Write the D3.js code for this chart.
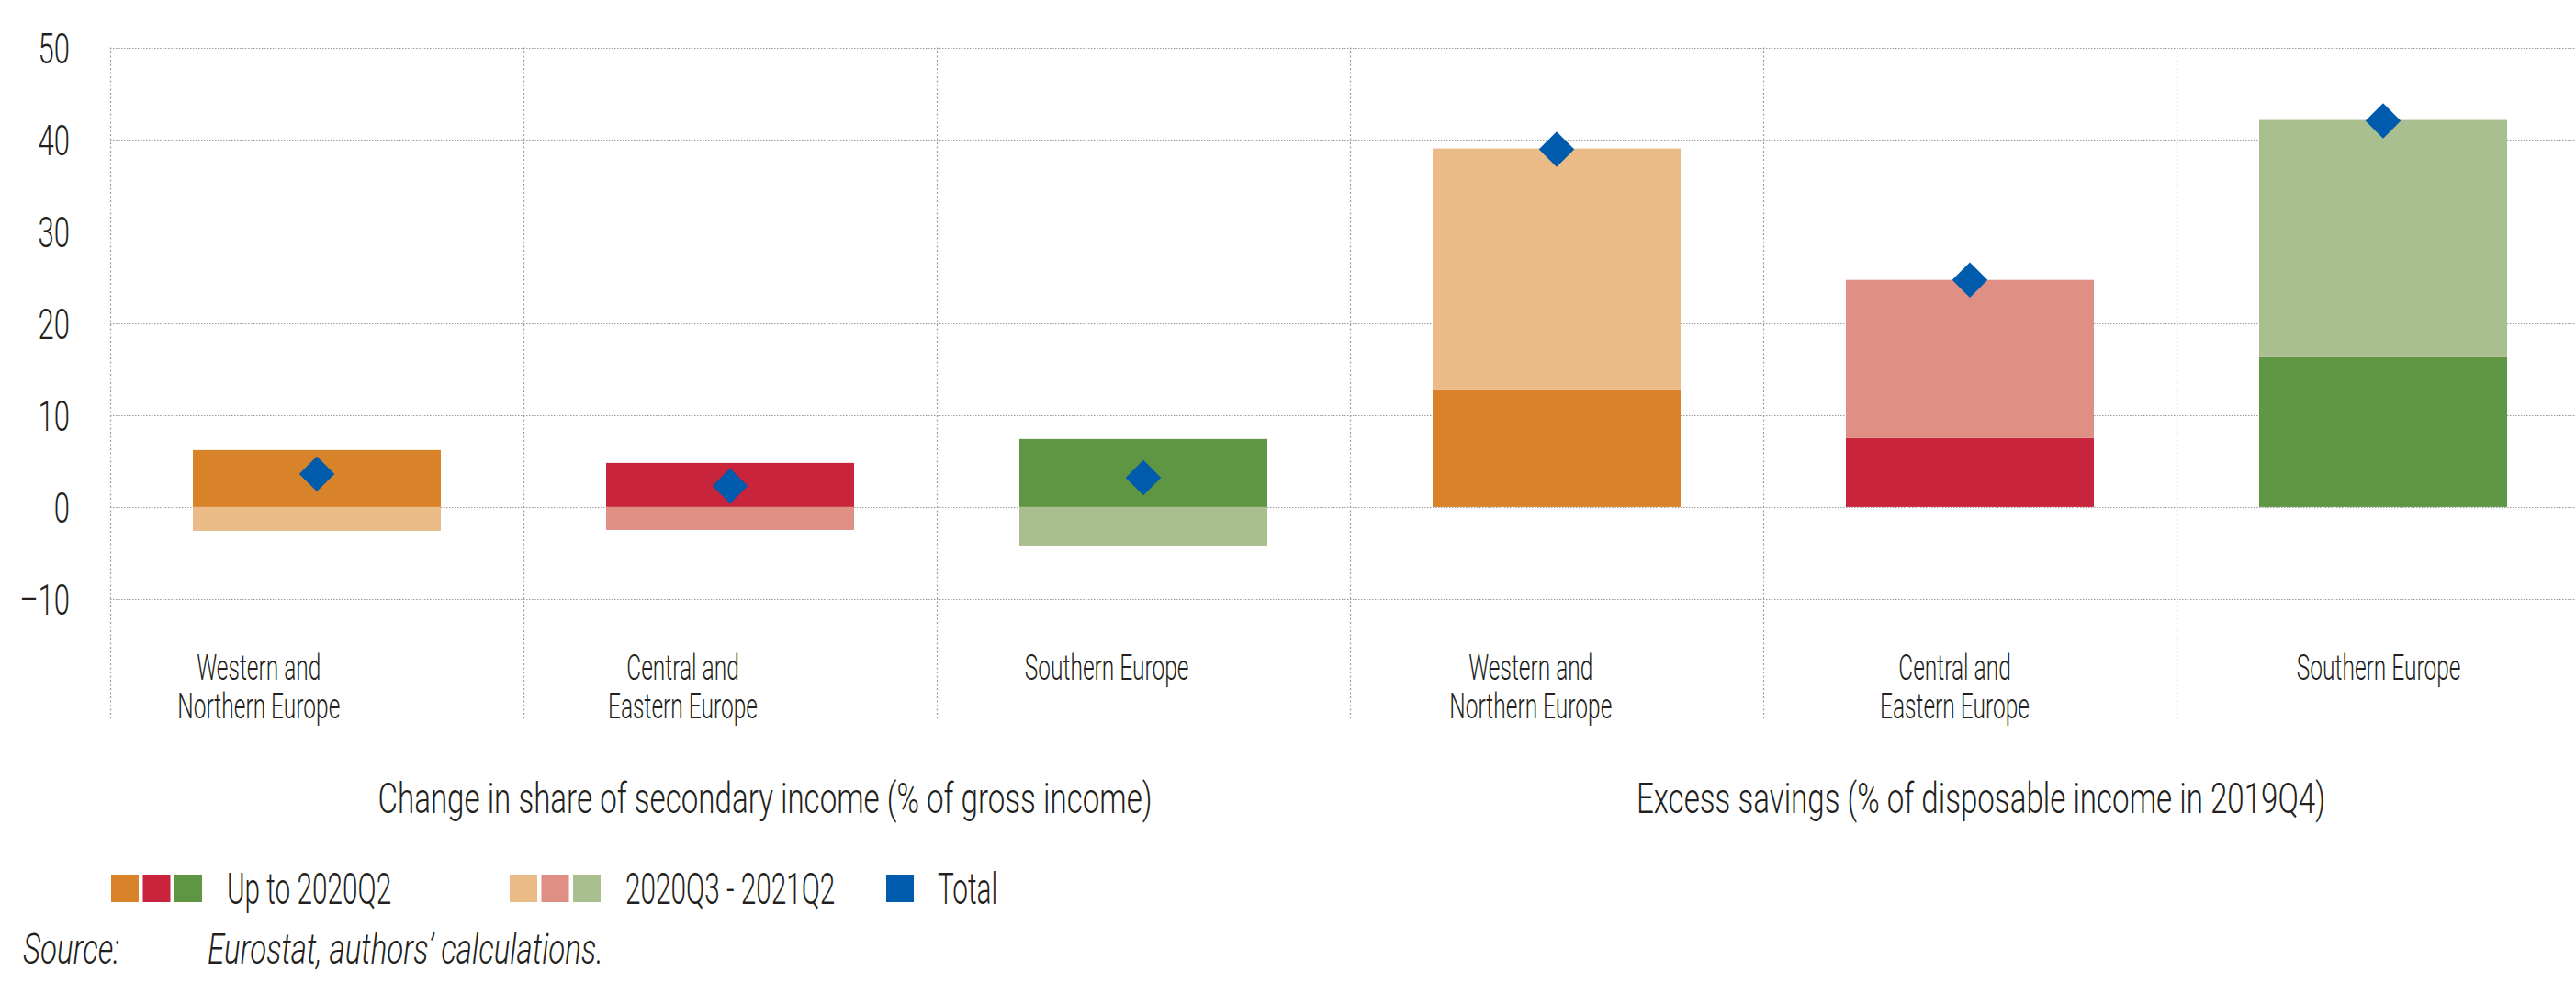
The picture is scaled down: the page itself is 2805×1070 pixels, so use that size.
<!DOCTYPE html>
<html>
<head>
<meta charset="utf-8">
<script src="https://cdn.jsdelivr.net/npm/d3@7"></script>
<style>
  html, body { margin: 0; padding: 0; background: #fff; }
  svg { display: block; }
  text { font-family: Roboto, "Open Sans", sans-serif; font-weight: 300; fill: #231f20; }
</style>
</head>
<body>
<svg id="chart"></svg>
<script>
// categories: two panels x three regions
const catKeys = ["inc-wn", "inc-ce", "inc-s", "sav-wn", "sav-ce", "sav-s"];
const catLabels = [
  ["Western and", "Northern Europe"], ["Central and", "Eastern Europe"], ["Southern Europe"],
  ["Western and", "Northern Europe"], ["Central and", "Eastern Europe"], ["Southern Europe"]
];
const panelTitles = [
  "Change in share of secondary income (% of gross income)",
  "Excess savings (% of disposable income in 2019Q4)"
];

// series values
const upTo2020Q2 = [6.2, 4.8, 7.4, 12.8, 7.5, 16.3];
const q3To2021Q2 = [-2.6, -2.5, -4.2, 26.2, 17.2, 25.8];
const totals = [3.6, 2.3, 3.2, 38.9, 24.7, 42.0];

const yTicks = [-10, 0, 10, 20, 30, 40, 50];
const legendLabels = ["Up to 2020Q2", "2020Q3 - 2021Q2", "Total"];

// colours per region (dark = up to 2020Q2, light = later)
const darkCols = ["#d8832a", "#c8243b", "#5e9644"];
const lightCols = ["#eaba87", "#df8f84", "#aabf8f"];
const blue = "#005bac";

const width = 2805, height = 1070;

const svg = d3.select("#chart").attr("width", width).attr("height", height);

const rows = catKeys.map((k, i) => ({ key: k, region: i % 3, up: upTo2020Q2[i], later: q3To2021Q2[i], total: totals[i] }));

const x = d3.scaleBand().domain(catKeys).range([120, 2820]).paddingInner(0.4).paddingOuter(0.2);
const xLab = d3.scaleBand().domain(catKeys).range([51, 2821]);
const y = d3.scaleLinear().domain([-10, 50]).range([652, 51.5]);

// grid
const grid = svg.append("g");
grid.selectAll("line.h").data(yTicks).join("line")
  .attr("class", "h")
  .attr("x1", 120).attr("x2", 2820)
  .attr("y1", d => Math.round(y(d)) + 0.5).attr("y2", d => Math.round(y(d)) + 0.5)
  .attr("stroke", "#9d9d9d").attr("stroke-width", 1.2).attr("stroke-dasharray", "1.5,1.5");

grid.selectAll("line.v").data(d3.range(catKeys.length + 1)).join("line")
  .attr("class", "v")
  .attr("x1", i => Math.round(x.range()[0] + i * x.step()) + 0.5)
  .attr("x2", i => Math.round(x.range()[0] + i * x.step()) + 0.5)
  .attr("y1", y(50)).attr("y2", 782)
  .attr("stroke", "#9d9d9d").attr("stroke-width", 1.2).attr("stroke-dasharray", "2,2.5");

// y axis labels
svg.append("g")
  .attr("transform", "translate(76,0)")
  .call(d3.axisLeft(y).tickValues(yTicks).tickSize(0).tickPadding(0).tickFormat(d => d < 0 ? "\u2013" + Math.abs(d) : d))
  .call(g => g.select(".domain").remove())
  .selectAll("text")
  .attr("font-family", null)
  .attr("font-size", 47)
  .attr("dy", "0.36em")
  .attr("transform", "scale(0.66,1)");

// stacked bars
const stack = d3.stack().keys(["up", "later"]).offset(d3.stackOffsetDiverging);
const series = stack(rows);

svg.append("g").selectAll("g").data(series).join("g")
  .selectAll("rect").data(s => s.map(d => ({ s: s.key, d }))).join("rect")
  .attr("x", p => x(p.d.data.key))
  .attr("width", x.bandwidth())
  .attr("y", p => y(Math.max(p.d[0], p.d[1])))
  .attr("height", p => Math.abs(y(p.d[0]) - y(p.d[1])))
  .attr("fill", p => p.s === "up" ? darkCols[p.d.data.region] : lightCols[p.d.data.region]);

// total markers
svg.append("g").selectAll("path").data(rows).join("path")
  .attr("d", d3.symbol(d3.symbolSquare, 740))
  .attr("transform", d => `translate(${x(d.key) + x.bandwidth() / 2},${y(d.total)}) rotate(45)`)
  .attr("fill", blue);

// category labels
const catG = svg.append("g").selectAll("g").data(rows).join("g");
catG.each(function (d, i) {
  catLabels[i].forEach((ln, j) => {
    d3.select(this).append("text")
      .attr("transform", `translate(${xLab(d.key) + xLab.bandwidth() / 2},${740 + j * 42}) scale(0.645,1)`)
      .attr("text-anchor", "middle")
      .attr("font-size", 38)
      .text(ln);
  });
});

// panel titles
const titleX = [833, 2157];
svg.append("g").selectAll("text").data(panelTitles).join("text")
  .attr("transform", (d, i) => `translate(${titleX[i]},885) scale(0.72,1)`)
  .attr("text-anchor", "middle")
  .attr("font-size", 46)
  .text(d => d);

// legend
const leg = svg.append("g");
const legendItems = [
  { label: legendLabels[0], cols: darkCols, x: 121, tx: 247 },
  { label: legendLabels[1], cols: lightCols, x: 555, tx: 681 },
  { label: legendLabels[2], cols: [blue], x: 965, tx: 1021 }
];
legendItems.forEach(it => {
  leg.selectAll(null).data(it.cols).join("rect")
    .attr("x", (c, i) => it.x + i * 34.5)
    .attr("y", 952).attr("width", 30).attr("height", 30)
    .attr("fill", c => c);
  leg.append("text")
    .attr("transform", `translate(${it.tx},984) scale(0.62,1)`)
    .attr("font-size", 48)
    .text(it.label);
});

// source
svg.append("text")
  .attr("transform", "translate(25,1049) scale(0.72,1)")
  .attr("font-size", 46).attr("font-style", "italic")
  .text("Source:");
svg.append("text")
  .attr("transform", "translate(226,1049) scale(0.72,1)")
  .attr("font-size", 46).attr("font-style", "italic")
  .text("Eurostat, authors\u2019 calculations.");
</script>
</body>
</html>
